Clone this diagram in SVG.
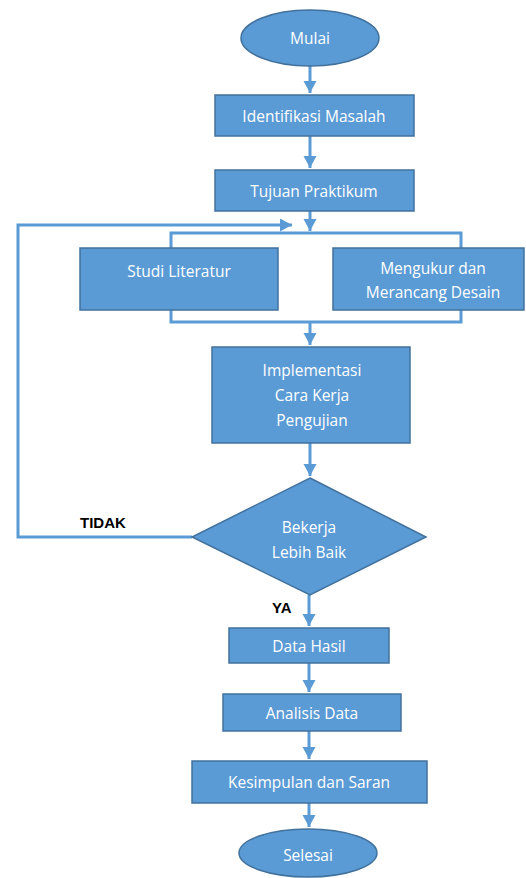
<svg xmlns="http://www.w3.org/2000/svg" width="526" height="878" viewBox="0 0 526 878">
<style>
.n{fill:#5B9BD5;stroke:#41719C;stroke-width:1.5}
.t{fill:#fff;font-family:"Open Sans","Liberation Sans",sans-serif;font-size:15.5px;text-anchor:middle;dominant-baseline:central}
.c{fill:none;stroke:#5B9BD5;stroke-width:3}
.l{fill:#000;font-family:"Liberation Sans",sans-serif;font-size:15px;font-weight:bold}
</style>
<defs>
<marker id="ah" markerUnits="userSpaceOnUse" markerWidth="14" markerHeight="14" refX="12" refY="6.5" orient="auto">
<path d="M0,0 L12,6.5 L0,13 Z" fill="#5B9BD5"/>
</marker>
</defs>
<rect width="526" height="878" fill="#fff"/>
<g id="connectors">
<path class="c" d="M310,66 V93" marker-end="url(#ah)"/>
<path class="c" d="M310,136 V168" marker-end="url(#ah)"/>
<path class="c" d="M310,211 V231" marker-end="url(#ah)"/>
<path class="c" d="M171,248 V233 H461 V248"/>
<path class="c" d="M171,310 V322 H461 V310"/>
<path class="c" d="M310,322 V345" marker-end="url(#ah)"/>
<path class="c" d="M310,443 V476" marker-end="url(#ah)"/>
<path class="c" d="M192,537 H18 V225 H292" marker-end="url(#ah)"/>
<path class="c" d="M309,595 V626" marker-end="url(#ah)"/>
<path class="c" d="M309,663 V692" marker-end="url(#ah)"/>
<path class="c" d="M309,731 V759" marker-end="url(#ah)"/>
<path class="c" d="M309,803 V827" marker-end="url(#ah)"/>
</g>
<g id="mulai"><ellipse class="n" cx="310" cy="38" rx="69" ry="28"/><text class="t" x="310" y="38">Mulai</text></g>
<g id="identifikasi"><rect class="n" x="215" y="95" width="199" height="41"/><text class="t" x="314" y="115.5">Identifikasi Masalah</text></g>
<g id="tujuan"><rect class="n" x="215" y="170" width="199" height="41"/><text class="t" x="314" y="190.5">Tujuan Praktikum</text></g>
<g id="studi"><rect class="n" x="80" y="248" width="198" height="62"/><text class="t" x="179" y="271">Studi Literatur</text></g>
<g id="mengukur"><rect class="n" x="333" y="248" width="191" height="62"/><text class="t" x="433" y="268">Mengukur dan</text><text class="t" x="433" y="292">Merancang Desain</text></g>
<g id="implementasi"><rect class="n" x="212" y="347" width="198" height="96"/><text class="t" x="312" y="370">Implementasi</text><text class="t" x="312" y="395">Cara Kerja</text><text class="t" x="312" y="420">Pengujian</text></g>
<g id="keputusan"><path class="n" d="M310,478 L426,537 L310,595 L192,537 Z"/><text class="t" x="309" y="527">Bekerja</text><text class="t" x="309" y="552">Lebih Baik</text></g>
<g id="labels"><text class="l" x="80" y="528">TIDAK</text><text class="l" x="272" y="613">YA</text></g>
<g id="datahasil"><rect class="n" x="229" y="628" width="160" height="35"/><text class="t" x="309" y="646">Data Hasil</text></g>
<g id="analisis"><rect class="n" x="223" y="694" width="178" height="37"/><text class="t" x="312" y="713">Analisis Data</text></g>
<g id="kesimpulan"><rect class="n" x="192" y="761" width="235" height="42"/><text class="t" x="309" y="782">Kesimpulan dan Saran</text></g>
<g id="selesai"><ellipse class="n" cx="308" cy="853" rx="69" ry="24"/><text class="t" x="308" y="855">Selesai</text></g>
</svg>
